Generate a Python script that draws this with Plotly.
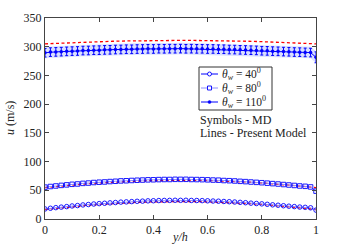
import plotly.graph_objects as go

# ---- data ----
yh_md = [0.00, 0.02, 0.04, 0.06, 0.08, 0.10, 0.12, 0.14, 0.16, 0.18,
         0.20, 0.22, 0.24, 0.26, 0.28, 0.30, 0.32, 0.34, 0.36, 0.38,
         0.40, 0.42, 0.44, 0.46, 0.48, 0.50, 0.52, 0.54, 0.56, 0.58,
         0.60, 0.62, 0.64, 0.66, 0.68, 0.70, 0.72, 0.74, 0.76, 0.78,
         0.80, 0.82, 0.84, 0.86, 0.88, 0.90, 0.92, 0.94, 0.96, 0.98, 1.00]

u_md_40 = [17.5, 18.7, 19.8, 20.7, 21.6, 22.7, 23.4, 24.5, 25.2, 26.1,
           26.8, 27.4, 28.1, 28.7, 29.4, 29.8, 30.3, 30.8, 31.1, 31.6,
           31.8, 32.1, 32.3, 32.4, 32.6, 32.5, 32.6, 32.3, 32.2, 32.0,
           31.7, 31.3, 31.0, 30.5, 30.1, 29.6, 29.0, 28.4, 27.6, 27.0,
           26.4, 25.6, 24.7, 24.0, 23.1, 22.3, 21.6, 20.8, 20.3, 19.5, 15.5]

u_md_80 = [55.5, 56.6, 57.5, 58.5, 59.4, 60.4, 61.0, 62.0, 62.6, 63.5,
           64.1, 64.5, 65.2, 65.7, 66.3, 66.6, 67.1, 67.5, 67.8, 68.2,
           68.3, 68.6, 68.8, 68.8, 69.1, 69.0, 69.1, 68.8, 68.7, 68.5,
           68.2, 67.8, 67.6, 67.0, 66.7, 66.2, 65.6, 65.1, 64.4, 63.8,
           63.2, 62.4, 61.6, 60.9, 60.0, 59.2, 58.4, 57.5, 56.9, 55.8, 48.5]

u_md_110 = [289.5, 290.6, 291.0, 291.4, 291.9, 292.3, 292.6, 293.3, 293.4, 293.9,
            294.0, 294.5, 294.6, 295.1, 295.2, 295.6, 295.5, 295.9, 296.0, 296.3,
            296.1, 296.5, 296.4, 296.6, 296.5, 296.7, 296.4, 296.6, 296.3, 296.4,
            296.0, 296.1, 295.7, 295.6, 295.1, 295.0, 294.6, 294.3, 293.9, 293.6,
            293.0, 292.8, 292.3, 292.0, 291.5, 291.2, 290.7, 290.5, 290.1, 289.8, 281.5]

err_md_110 = [7.5] * 50 + [9.5]

yh_model = [0.00, 0.05, 0.10, 0.15, 0.20, 0.25, 0.30, 0.35, 0.40, 0.45, 0.50,
            0.55, 0.60, 0.65, 0.70, 0.75, 0.80, 0.85, 0.90, 0.95, 1.00]
u_model_40 = [16.5, 19.2, 21.5, 23.6, 25.5, 27.0, 28.3, 29.2, 29.9, 30.4, 30.5,
              30.4, 29.9, 29.2, 28.3, 27.0, 25.5, 23.6, 21.5, 19.2, 16.5]
u_model_80 = [54.5, 57.0, 59.2, 61.1, 62.8, 64.3, 65.4, 66.3, 67.0, 67.4, 67.5,
              67.4, 67.0, 66.3, 65.4, 64.3, 62.8, 61.1, 59.2, 57.0, 54.5]
u_model_110 = [305.0, 306.1, 307.2, 308.1, 308.8, 309.5, 310.0, 310.5, 310.8, 310.9, 311.0,
               310.9, 310.8, 310.5, 310.0, 309.5, 308.8, 308.1, 307.2, 306.1, 305.0]

x_ticks = [0, 0.2, 0.4, 0.6, 0.8, 1]
x_tick_labels = ["0", "0.2", "0.4", "0.6", "0.8", "1"]
y_ticks = [0, 50, 100, 150, 200, 250, 300, 350]

legend_labels = ["<i>θ<sub>w</sub></i> = 40<sup>0</sup>",
                 "<i>θ<sub>w</sub></i> = 80<sup>0</sup>",
                 "<i>θ<sub>w</sub></i> = 110<sup>0</sup>"]

FONT = "Liberation Serif"
TXT = "#222222"
BLUE = "#0000ff"
LIGHT = "#8c8cff"
W, H = 349, 247
ML, MR, MT, MB = 45, 33, 18, 28
PW, PH = W - ML - MR, H - MT - MB


def px(xp):  # pixel -> paper x
    return (xp - ML) / PW


def py(yp):  # pixel -> paper y
    return (H - MB - yp) / PH


fig = go.Figure()

upper = [u + 10 for u in u_md_110]
lower = [u - 10 for u in u_md_110]
fig.add_trace(go.Scatter(x=yh_md + yh_md[::-1], y=upper + lower[::-1],
                         fill="toself", fillcolor="rgba(130,150,255,0.3)",
                         line=dict(width=0), mode="lines", showlegend=False,
                         hoverinfo="skip"))

for um in (u_model_40, u_model_80, u_model_110):
    fig.add_trace(go.Scatter(x=yh_model, y=um, mode="lines",
                             line=dict(color="#ff0000", width=1.3, dash="3px,2.5px"),
                             showlegend=False))

fig.add_trace(go.Scatter(x=yh_md, y=u_md_40, mode="lines+markers", showlegend=False,
                         line=dict(color=LIGHT, width=1),
                         marker=dict(symbol="circle-open", size=4.5, color=BLUE,
                                     line=dict(width=0.9, color=BLUE))))
fig.add_trace(go.Scatter(x=yh_md, y=u_md_80, mode="lines+markers", showlegend=False,
                         line=dict(color=LIGHT, width=1),
                         marker=dict(symbol="square-open", size=4.5, color=BLUE,
                                     line=dict(width=0.9, color=BLUE))))
fig.add_trace(go.Scatter(x=yh_md, y=u_md_110, mode="lines+markers", showlegend=False,
                         line=dict(color=BLUE, width=1),
                         error_y=dict(type="data", array=err_md_110, color=BLUE,
                                      thickness=1, width=1.5),
                         marker=dict(symbol="circle", size=3.5, color=BLUE)))

axis_common = dict(showline=True, linecolor="#444444", linewidth=1, mirror="ticks",
                   ticks="inside", ticklen=4, tickcolor="#444444", showgrid=False,
                   zeroline=False, automargin=False,
                   tickfont=dict(family=FONT, size=12, color=TXT))

# custom legend
shapes = [dict(type="rect", xref="paper", yref="paper",
               x0=px(199), x1=px(272), y0=py(110), y1=py(67),
               line=dict(color="#333333", width=1), fillcolor="white", layer="above")]
annotations = []
item_y = [74, 88, 102]
line_cols = [BLUE, LIGHT, BLUE]
for i, (lab, yy) in enumerate(zip(legend_labels, item_y)):
    shapes.append(dict(type="line", xref="paper", yref="paper",
                       x0=px(201), x1=px(218), y0=py(yy), y1=py(yy),
                       line=dict(color=line_cols[i], width=1), layer="above"))
    r = 2.0 if i < 2 else 1.5
    if i == 0:
        shapes.append(dict(type="circle", xref="paper", yref="paper",
                           xsizemode="pixel", ysizemode="pixel",
                           xanchor=px(209.5), yanchor=py(yy),
                           x0=-r, x1=r, y0=-r, y1=r,
                           line=dict(color=BLUE, width=0.9), fillcolor="white", layer="above"))
    elif i == 1:
        shapes.append(dict(type="rect", xref="paper", yref="paper",
                           xsizemode="pixel", ysizemode="pixel",
                           xanchor=px(209.5), yanchor=py(yy),
                           x0=-r, x1=r, y0=-r, y1=r,
                           line=dict(color=BLUE, width=0.9), fillcolor="white", layer="above"))
    else:
        shapes.append(dict(type="circle", xref="paper", yref="paper",
                           xsizemode="pixel", ysizemode="pixel",
                           xanchor=px(209.5), yanchor=py(yy),
                           x0=-r, x1=r, y0=-r, y1=r,
                           line=dict(color=BLUE, width=0.5), fillcolor=BLUE, layer="above"))
    annotations.append(dict(x=px(220), y=py(yy), xref="paper", yref="paper",
                            xanchor="left", yanchor="middle", showarrow=False,
                            text=lab, font=dict(family=FONT, size=11.5, color=TXT)))

annotations += [
    dict(x=px(198), y=py(120), xref="paper", yref="paper", xanchor="left",
         yanchor="middle", showarrow=False, text="Symbols - MD",
         font=dict(family=FONT, size=12, color=TXT)),
    dict(x=px(198), y=py(133), xref="paper", yref="paper", xanchor="left",
         yanchor="middle", showarrow=False, text="Lines - Present Model",
         font=dict(family=FONT, size=12, color=TXT)),
    dict(x=px(180), y=py(237), xref="paper", yref="paper", xanchor="center",
         yanchor="middle", showarrow=False, text="<i>y/h</i>",
         font=dict(family=FONT, size=12, color=TXT)),
    dict(x=px(10), y=py(118), xref="paper", yref="paper", xanchor="center",
         yanchor="middle", showarrow=False, text="<i>u</i> (m/s)", textangle=-90,
         font=dict(family=FONT, size=12, color=TXT)),
]

fig.update_layout(
    width=W, height=H,
    margin=dict(l=ML, r=MR, t=MT, b=MB),
    paper_bgcolor="white", plot_bgcolor="white",
    font=dict(family=FONT, size=12, color=TXT),
    showlegend=False,
    xaxis=dict(range=[0, 1], tickvals=x_ticks, ticktext=x_tick_labels, **axis_common),
    yaxis=dict(range=[0, 350], tickvals=y_ticks, **axis_common),
    shapes=shapes,
    annotations=annotations,
)

fig.write_html("out.html", config={"displayModeBar": False},
               post_script="document.body.style.margin='0';document.body.style.overflow='hidden';")
